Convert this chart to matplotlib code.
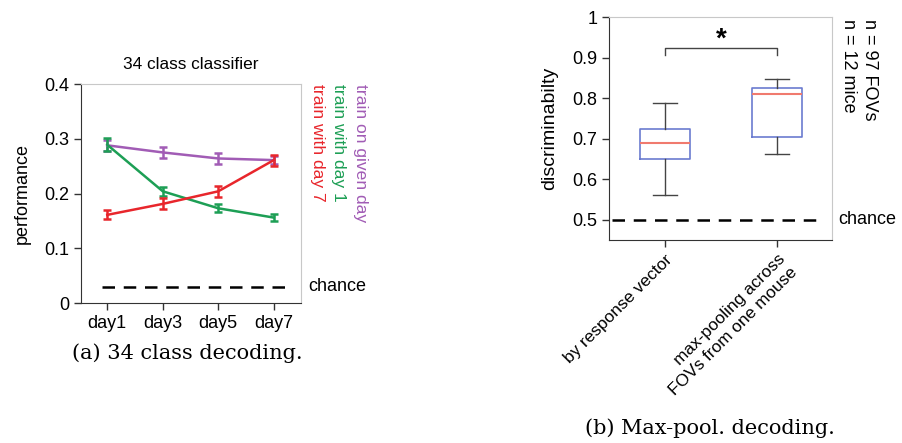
import matplotlib
matplotlib.use("Agg")
import matplotlib.pyplot as plt
import numpy as np

plt.rcParams['font.family'] = ['Liberation Sans', 'DejaVu Sans']

# ---- data: left panel ----
days = ["day1", "day3", "day5", "day7"]
given_day = [0.288, 0.275, 0.264, 0.261]
given_day_err = [0.010, 0.010, 0.010, 0.008]
with_day1 = [0.289, 0.204, 0.173, 0.156]
with_day1_err = [0.012, 0.008, 0.007, 0.007]
with_day7 = [0.161, 0.181, 0.204, 0.261]
with_day7_err = [0.008, 0.010, 0.010, 0.010]
chance_a = 0.03

# ---- data: right panel ----
box_labels = ["by response vector", "max-pooling across\nFOVs from one mouse"]
whislo = [0.560, 0.662]
q1 = [0.650, 0.705]
med = [0.690, 0.810]
q3 = [0.723, 0.826]
whishi = [0.788, 0.848]
chance_b = 0.5

purple = "#a15cb5"
green = "#1d9f55"
red = "#e8262c"
gray_box = "#c8c8c8"
FS = 13
SERIF = ['DejaVu Serif', 'Liberation Serif']

fig = plt.figure(figsize=(9.02, 4.43), dpi=100)

# ---------------- left panel ----------------
ax = fig.add_axes([81/902, 1-303/443, 220/902, 219/443])
x = np.arange(1, len(days)+1)
for vals, errs, c in [(given_day, given_day_err, purple),
                      (with_day1, with_day1_err, green),
                      (with_day7, with_day7_err, red)]:
    ax.errorbar(x, vals, yerr=errs, color=c, lw=1.8, capsize=3, capthick=1.8, elinewidth=1.8)
ax.plot([x[0]-0.1, 4.35], [chance_a, chance_a], ls=(0, (5, 3.5)), color="black", lw=1.8)
ax.set_xlim(0.527, 4.49)
ax.set_ylim(0, 0.4)
ax.set_yticks([0, 0.1, 0.2, 0.3, 0.4])
ax.set_yticklabels(["0", "0.1", "0.2", "0.3", "0.4"])
ax.set_xticks(x)
ax.set_xticklabels(days)
ax.spines['left'].set_color("#333333")
ax.spines['bottom'].set_color("#333333")
for s in ['top', 'right']:
    ax.spines[s].set_color(gray_box)
ax.tick_params(direction='out', length=5, width=1, labelsize=FS, colors="#333333", labelcolor="black")
ax.set_ylabel("performance", fontsize=FS, labelpad=10)
ax.set_title("34 class classifier", fontsize=12.4, pad=11)
ax.text(1.035, chance_a, "chance", transform=ax.get_yaxis_transform(), fontsize=FS, va='center', ha='left')
for xf, txt, c in [(1.27, "train on given day", purple), (1.17, "train with day 1", green), (1.075, "train with day 7", red)]:
    ax.text(xf, 1.0, txt, transform=ax.transAxes, rotation=-90, color=c, fontsize=12.6, va='top', ha='center')
fig.text(72/902, 1-353/443, "(a) 34 class decoding.", fontsize=15, family=SERIF, va='center', ha='left')

# ---------------- right panel ----------------
bx = fig.add_axes([609/902, 1-240/443, 223/902, 223/443])
stats = []
for i in range(len(box_labels)):
    stats.append(dict(whislo=whislo[i], q1=q1[i], med=med[i], q3=q3[i], whishi=whishi[i], fliers=[]))
bx.bxp(stats, positions=[1, 2], widths=0.45, showfliers=False,
       boxprops=dict(color="#6b7bd0", lw=1.2),
       medianprops=dict(color="#f07a6e", lw=1.5),
       whiskerprops=dict(color="#444444", lw=1.0),
       capprops=dict(color="#444444", lw=1.0),
       capwidths=0.21)
bx.plot([0.53, 2.41], [chance_b, chance_b], ls=(0, (5, 3.5)), color="black", lw=1.8)
bx.plot([1, 1, 2, 2], [0.906, 0.924, 0.924, 0.906], color="#444444", lw=1.0)
bx.text(1.5, 0.945, "*", fontsize=20, ha='center', va='center', fontweight='bold')
bx.set_xlim(0.5, 2.49)
bx.set_ylim(0.45, 1.0)
bx.set_yticks([0.5, 0.6, 0.7, 0.8, 0.9, 1.0])
bx.set_yticklabels(["0.5", "0.6", "0.7", "0.8", "0.9", "1"])
bx.set_xticks([1, 2])
bx.set_xticklabels(box_labels, rotation=45, ha='right', rotation_mode='anchor', fontsize=12.4, linespacing=1.25)
bx.spines['left'].set_color("#333333")
bx.spines['bottom'].set_color("#333333")
for s in ['top', 'right']:
    bx.spines[s].set_color(gray_box)
bx.tick_params(direction='out', length=5, width=1, labelsize=FS, colors="#333333", labelcolor="black")
bx.tick_params(axis='x', labelsize=12.4)
bx.set_ylabel("discriminabilty", fontsize=14, labelpad=10)
bx.text(1.03, chance_b, "chance", transform=bx.get_yaxis_transform(), fontsize=FS, va='center', ha='left')
bx.text(1.17, 0.99, "n = 97 FOVs", transform=bx.transAxes, rotation=-90, fontsize=FS, va='top', ha='center')
bx.text(1.075, 0.99, "n = 12 mice", transform=bx.transAxes, rotation=-90, fontsize=FS, va='top', ha='center')
fig.text(585/902, 1-428/443, "(b) Max-pool. decoding.", fontsize=15, family=SERIF, va='center', ha='left')

fig.savefig("out.png", dpi=100)
